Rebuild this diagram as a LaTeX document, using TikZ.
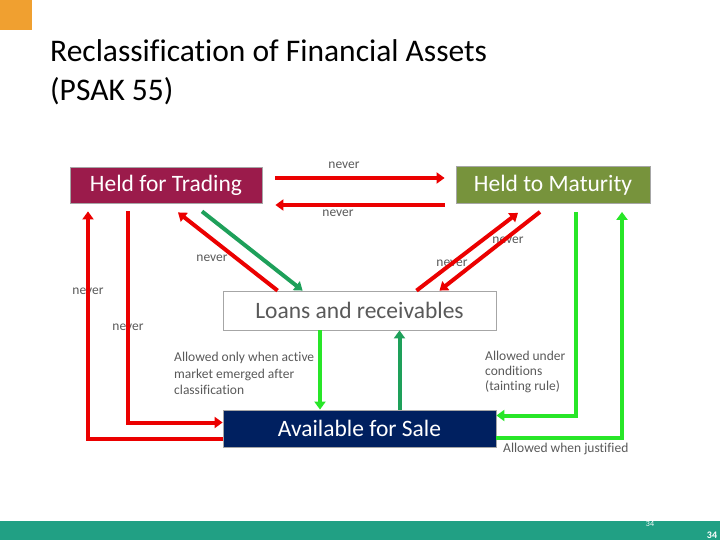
\documentclass[tikz,border=0pt]{standalone}
\usepackage{fontspec}
\setmainfont{Carlito}[Ligatures=NoCommon]
\usepackage{tikz}
\usetikzlibrary{arrows.meta, positioning, calc}
\definecolor{hftred}{RGB}{155,27,75}
\definecolor{htmgreen}{RGB}{119,147,60}
\definecolor{afsblue}{RGB}{0,32,96}
\definecolor{txtgray}{RGB}{89,89,89}
\definecolor{nored}{RGB}{235,0,0}
\definecolor{okgreen}{RGB}{40,230,40}
\definecolor{dkgreen}{RGB}{30,160,90}
\definecolor{barteal}{RGB}{33,160,132}
\definecolor{sqorange}{RGB}{240,160,48}
\tikzset{
  block/.style={rectangle, draw=gray!70, line width=0.8bp, text=white, minimum width=192bp, minimum height=36bp, align=center, font=\fontsize{23.5bp}{26bp}\selectfont, inner sep=0pt},
  lbl/.style={text=txtgray, font=\fontsize{13.5bp}{15bp}\selectfont, inner sep=0pt},
  note/.style={lbl, align=left, anchor=north west, font=\fontsize{13.5bp}{16.5bp}\selectfont},
  noarrow/.style={-{Triangle[length=8bp, width=11bp]}, line width=4bp, draw=nored},
  okarrow/.style={-{Triangle[length=8bp, width=11bp]}, line width=4bp, draw=okgreen},
  dkarrow/.style={-{Triangle[length=8bp, width=11bp]}, line width=4bp, draw=dkgreen}
}
\begin{document}
\begin{tikzpicture}[x=1bp, y=-1bp]
  \useasboundingbox (0,0) rectangle (720,540);
  % slide frame
  \fill[sqorange] (0,0) rectangle (32,30);
  \fill[barteal] (0,521) rectangle (720,540);
  \node[anchor=north west, align=left, inner sep=0pt, font=\fontsize{31.5bp}{39bp}\selectfont] (title) at (50,39) {Reclassification of Financial Assets\\(PSAK 55)};
  \node[text=white, font=\fontsize{8bp}{9bp}\selectfont, inner sep=0pt] (pg1) at (650,524) {34};
  \node[text=white, font=\fontsize{10bp}{11bp}\selectfont\bfseries, inner sep=0pt] (pg2) at (712,535) {34};

  % categories
  \node[block, fill=hftred] (hft) at (166,185) {Held for Trading};
  \node[block, fill=htmgreen, minimum width=194bp, minimum height=37bp] (htm) at (553,185) {Held to Maturity};
  \node[block, fill=white, text=txtgray, minimum width=273bp, minimum height=39bp] (lar) at (359.5,310.5) {Loans and receivables};
  \node[block, fill=afsblue, minimum width=273bp, minimum height=37bp] (afs) at (359.5,428.5) {Available for Sale};

  % labels
  \node[lbl] (nv1) at (344,165) {never};
  \node[lbl] (nv2) at (338,213) {never};
  \node[lbl] (nv3) at (212,258) {never};
  \node[lbl] (nv4) at (452,263) {never};
  \node[lbl] (nv5) at (508,240) {never};
  \node[lbl] (nv6) at (88,291) {never};
  \node[lbl] (nv7) at (128,327) {never};
  \node[note] (n1) at (174,352) {Allowed only when active\\market emerged after\\classification};
  \node[note, font=\fontsize{13.5bp}{15bp}\selectfont] (n2) at (485,351) {Allowed under\\conditions\\(tainting rule)};
  \node[lbl, anchor=north west] (n3) at (503,443) {Allowed when justified};

  % transfers
  \draw[noarrow] ($(hft.east)+(13,-7)$) -- ($(htm.west)+(-11,-7)$);
  \draw[noarrow] ($(htm.west)+(-11,20)$) -- ($(hft.east)+(13,20)$);
  \draw[noarrow] ($(lar.north west)+(55,0)$) -- ($(hft.south)+(12,9)$);
  \draw[dkarrow] ($(hft.south)+(36,8)$) -- ($(lar.north west)+(80,0)$);
  \draw[noarrow] ($(lar.north)+(57,0)$) -- ($(htm.south)+(-35,9)$);
  \draw[noarrow] ($(htm.south)+(-13,8)$) -- ($(lar.north)+(80,0)$);
  \draw[okarrow] ($(htm.south)+(23,8)$) |- ($(afs.east)+(0,-13)$);
  \draw[okarrow] ($(afs.east)+(0,9)$) -| ($(htm.south)+(69,8)$);
  \draw[okarrow] ($(lar.south)+(-39.5,0)$) -- ($(afs.north)+(-39.5,0)$);
  \draw[dkarrow] ($(afs.north)+(40,0)$) -- ($(lar.south)+(40,0)$);
  \draw[noarrow] ($(hft.south)+(-38,8)$) |- ($(afs.west)+(0,-6)$);
  \draw[noarrow] ($(afs.west)+(0,10)$) -| ($(hft.south)+(-78,8)$);
\end{tikzpicture}
\end{document}
